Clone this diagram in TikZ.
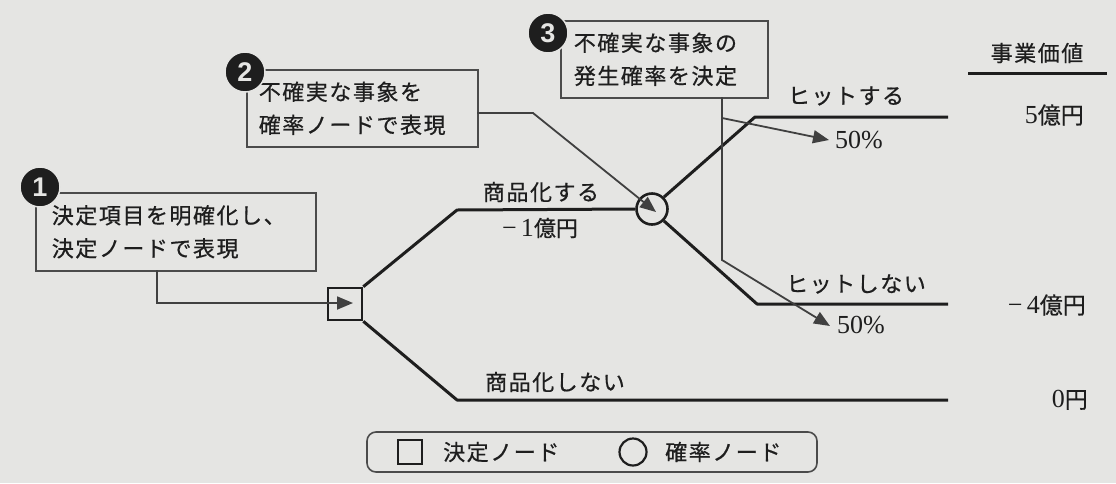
\documentclass[tikz,border=0pt]{standalone}
\usepackage{fontspec}
\setmainfont{Liberation Serif}
\newfontfamily\jp{Noto Sans CJK JP}[LetterSpace=7,FakeBold=0.6]
\newfontfamily\jpn{Noto Sans CJK JP}[FakeBold=0.6]
\newfontfamily\num{Liberation Serif}
\newfontfamily\bdg{Liberation Sans}
\usetikzlibrary{arrows.meta}
\definecolor{bg}{RGB}{229,229,227}
\definecolor{ink}{RGB}{30,30,30}
\begin{document}
\begin{tikzpicture}[x=1pt,y=-1pt,
  tree/.style={draw=ink, line width=3pt, line join=round},
  callout/.style={draw=ink!85, line width=1.8pt, line join=miter},
  tip/.style={-{Triangle[length=16pt,width=13pt]}},
  box/.style={draw=ink!80, line width=1.6pt, fill=bg, anchor=north west,
    inner ysep=0pt, align=left, font=\jp\fontsize{22}{33}\selectfont, text=ink},
  badge/.style={circle, fill=ink, draw=bg, line width=1.5pt, minimum size=40pt,
    inner sep=0pt, text=bg, font=\bdg\bfseries\fontsize{27}{27}\selectfont},
  jtext/.style={font=\jp\fontsize{22}{26}\selectfont, text=ink, inner sep=0pt},
  val/.style={font=\jpn\fontsize{23}{26}\selectfont, text=ink, inner sep=0pt, anchor=east},
  pct/.style={font=\num\fontsize{26}{28}\selectfont, text=ink, inner sep=0pt, anchor=west}]
\fill[bg] (0,0) rectangle (1116,483);
\useasboundingbox (0,0) rectangle (1116,483);

% tree nodes
\node[draw=ink, line width=2.6pt, fill=bg, minimum width=34pt, minimum height=32pt, inner sep=0pt] (d) at (345,304) {};
\node[draw=ink, line width=2.6pt, fill=bg, circle, minimum size=31pt, inner sep=0pt] (c) at (652,209) {};

\coordinate (d1) at (457,210);
\coordinate (d2) at (457,400);
\coordinate (c1) at (755,117);
\coordinate (c2) at (757,304);
\coordinate (e1) at (948,117);
\coordinate (e2) at (948,304);
\coordinate (e3) at (948,400);

\draw[tree] (d.north east) -- (d1) -- (c.west);
\draw[tree] (d.south east) -- (d2) -- (e3);
\draw[tree] (c.north east) -- (c1) -- (e1);
\draw[tree] (c.south east) -- (c2) -- (e2);

% branch labels
\node[jtext] (l1) at (541,192) {商品化する};
\node[jtext] (l2) at (540,228) {{\num\fontsize{26}{28}\selectfont −\,1}{\jpn 億円}};
\node[jtext] (l3) at (555,382) {商品化しない};
\node[jtext] (l4) at (846,96) {ヒットする};
\node[jtext] (l5) at (856,284) {ヒットしない};

% values
\node[jtext] (vh) at (1037,53) {事業価値};
\coordinate (u1) at (968,73);
\coordinate (u2) at (1107,73);
\draw[tree] (u1) -- (u2);
\node[val] (v1) at (1084,115) {{\num\fontsize{26}{28}\selectfont 5}億円};
\node[val] (v2) at (1086,305) {{\num\fontsize{26}{28}\selectfont −\,4}億円};
\node[val] (v3) at (1088,400) {{\num\fontsize{26}{28}\selectfont 0}円};

% callout boxes
\node[box, minimum width=280pt, minimum height=78pt, text width=248pt, inner xsep=16pt] (b1) at (35,192)
  {決定項目を明確化し、\\決定ノードで表現};
\node[box, minimum width=231pt, minimum height=77pt, text width=207pt, inner xsep=12pt] (b2) at (246,69)
  {不確実な事象を\\確率ノードで表現};
\node[box, minimum width=207pt, minimum height=77pt, text width=181pt, inner xsep=13pt] (b3) at (560,20)
  {不確実な事象の\\発生確率を決定};

\node[badge] (n1) at (40,187) {1};
\node[badge] (n2) at (245,72) {2};
\node[badge] (n3) at (548,33) {3};

% callout connectors
\coordinate (a1s) at (157,270);
\coordinate (a1e) at (353,303);
\draw[callout, tip] (a1s) |- (a1e);

\coordinate (a2s) at (477,113);
\coordinate (a2b) at (533,113);
\coordinate (a2e) at (656,212);
\draw[callout, tip] (a2s) -- (a2b) -- (a2e);

\coordinate (a3s) at (722,97);
\coordinate (a3m) at (722,118);
\coordinate (a3b) at (722,260);
\coordinate (p1) at (829,140);
\coordinate (p2) at (830,326);
\draw[callout, tip] (a3s) -- (a3b) -- (p2);
\draw[callout, tip] (a3m) -- (p1);

\node[pct] (t1) at (835,140) {50\%};
\node[pct] (t2) at (837,325) {50\%};

% legend
\node[draw=ink!80, line width=1.6pt, rounded corners=9pt, minimum width=450pt, minimum height=40pt] (leg) at (592,452) {};
\node[draw=ink, line width=2.2pt, minimum size=24pt, inner sep=0pt] (ls) at (410,452) {};
\node[jtext, anchor=west] (lt1) at (443,452) {決定ノード};
\node[draw=ink, line width=2.2pt, circle, minimum size=27pt, inner sep=0pt] (lc) at (633,452) {};
\node[jtext, anchor=west] (lt2) at (665,452) {確率ノード};
\end{tikzpicture}
\end{document}
